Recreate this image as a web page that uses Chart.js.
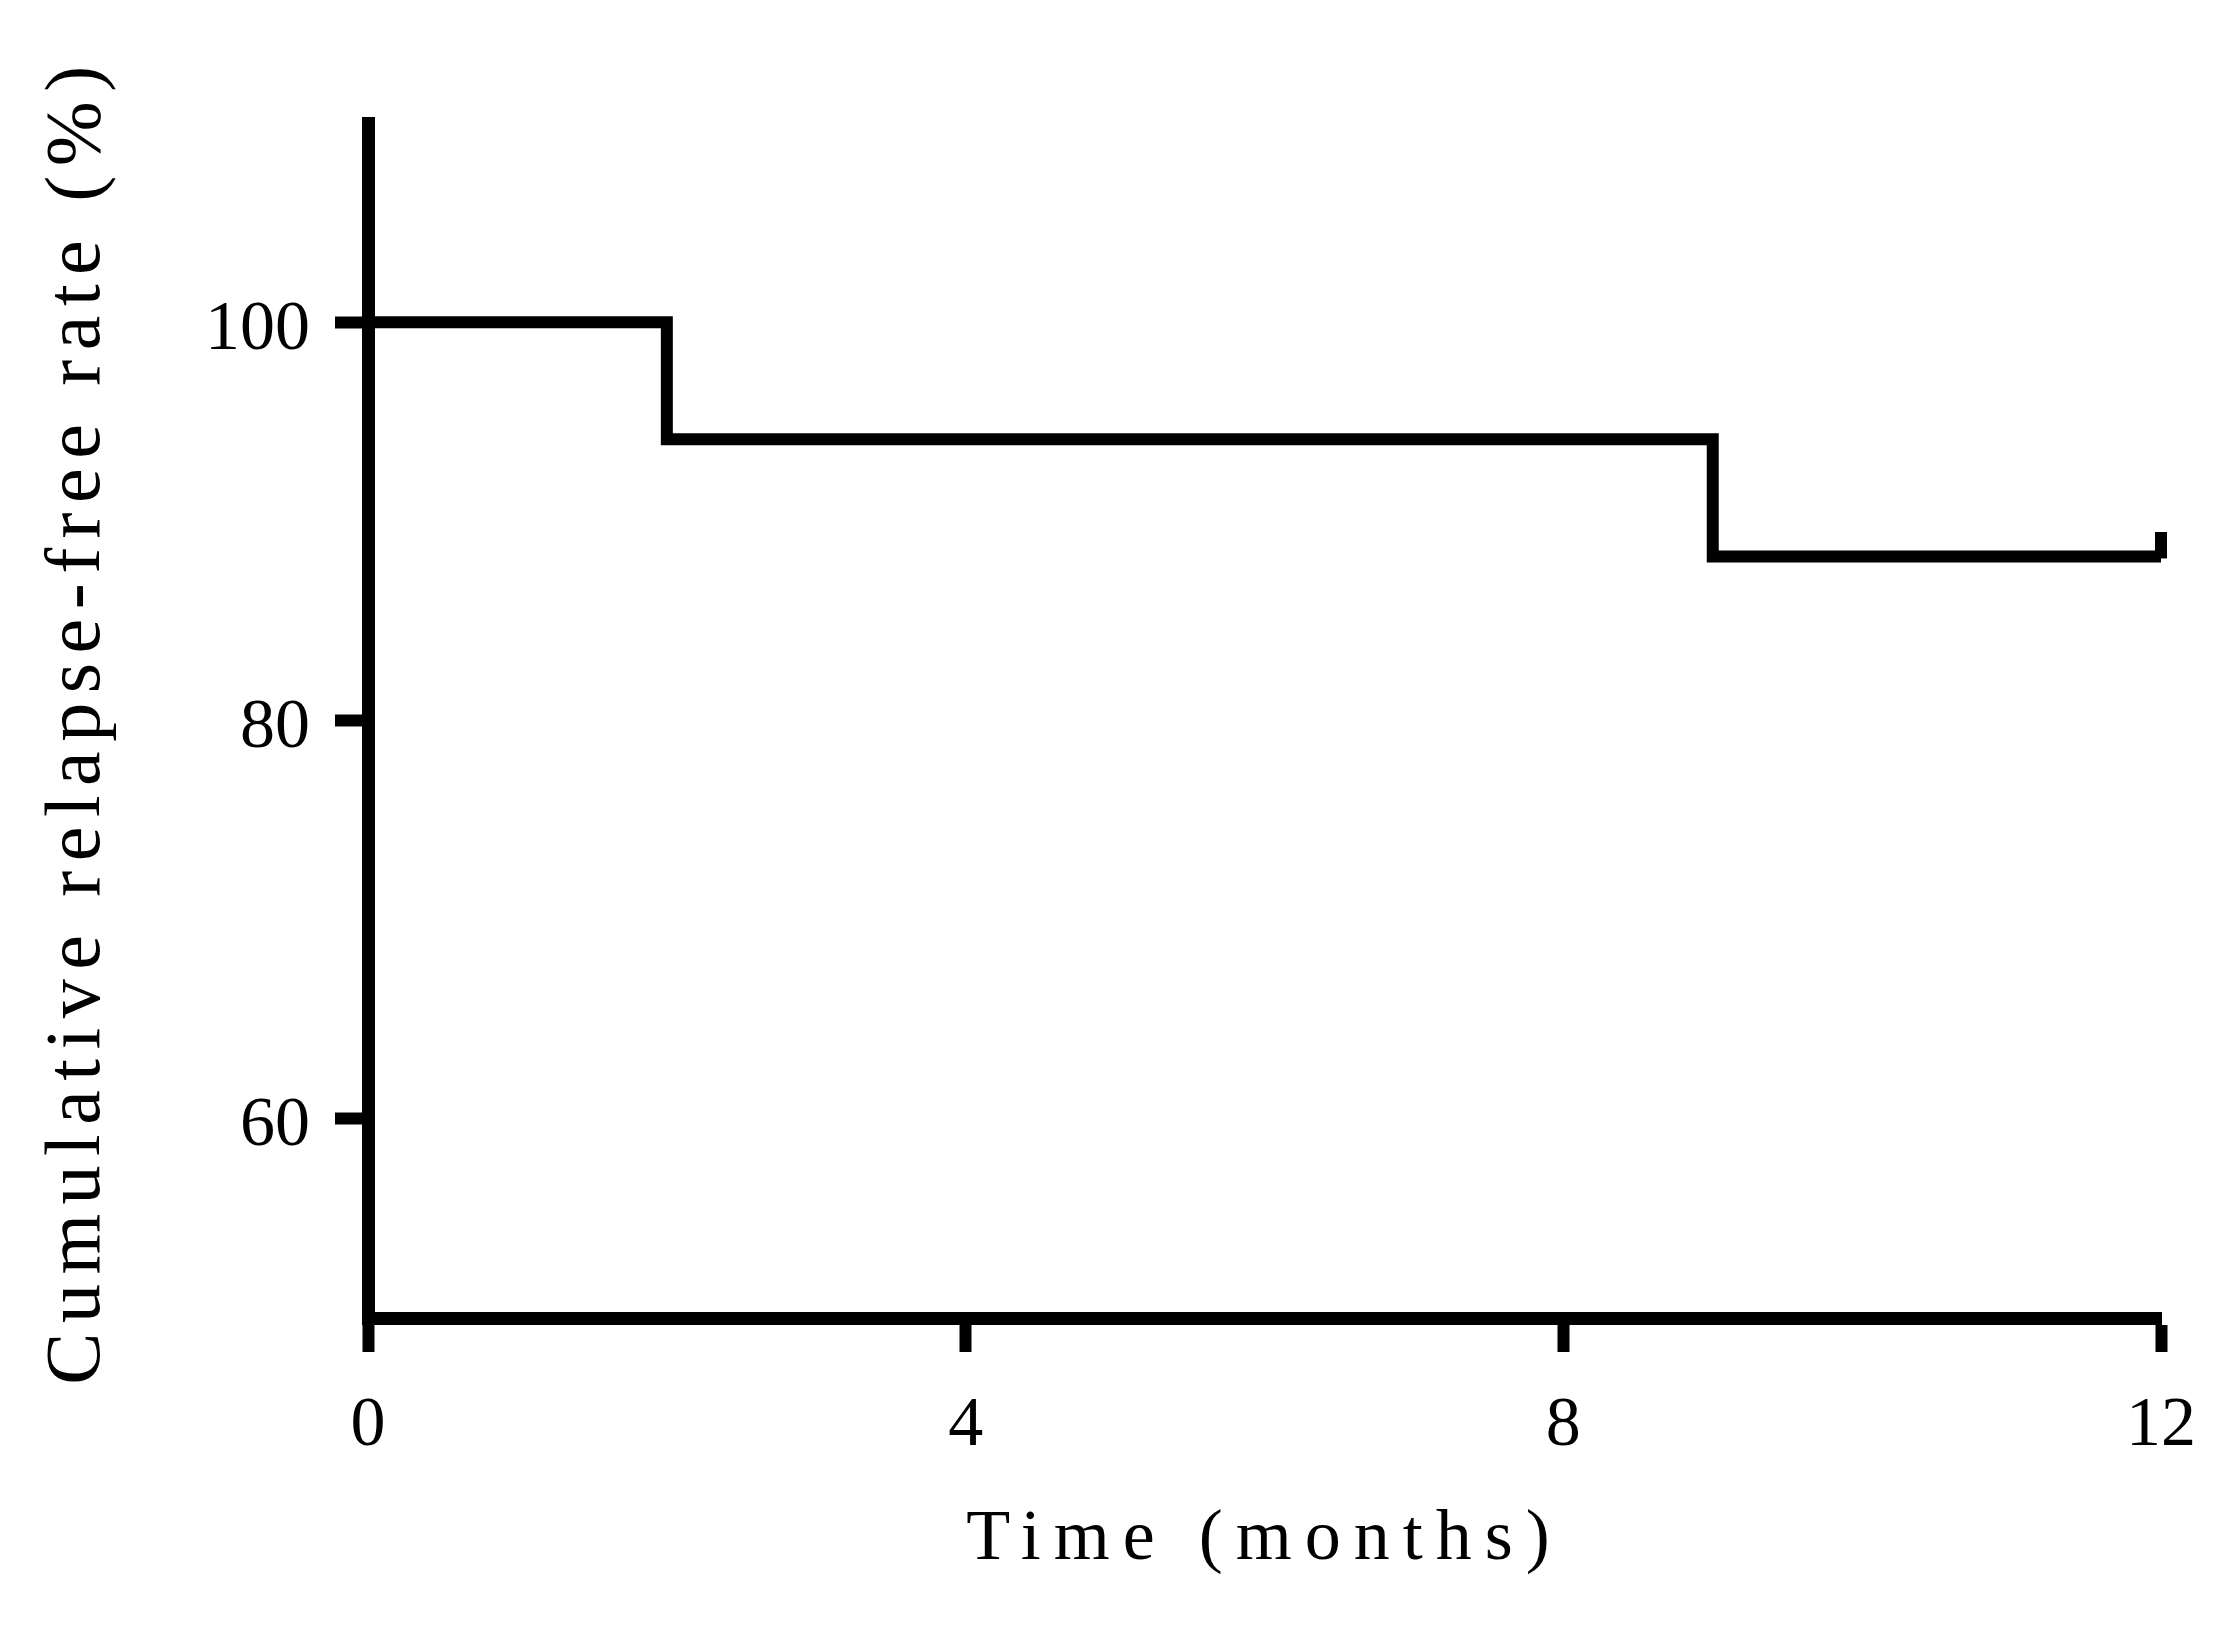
<!DOCTYPE html>
<html>
<head>
<meta charset="utf-8">
<script src="https://cdn.jsdelivr.net/npm/chart.js@4.4.1/dist/chart.umd.min.js"></script>
<style>
  html, body { margin: 0; padding: 0; background: #fff; }
  canvas { display: block; }
</style>
</head>
<body>
<canvas id="km" width="2237" height="1636"></canvas>
<script>
// Kaplan-Meier style curve
const months = [0, 2, 9, 12];
const relapseFree = [100, 94.12, 88.24, 88.24];
const censorMonths = [12];
const censorRates = [88.24];
const xTicks = [0, 4, 8, 12];
const yTicks = [60, 80, 100];

const serif = 'Liberation Serif';
const titleSpacing = { x: 13, y: 9.5 };

// little upward tick for the censored case
const censorMark = document.createElement('canvas');
censorMark.width = 12;
censorMark.height = 48;
const cm = censorMark.getContext('2d');
cm.fillStyle = '#000';
cm.fillRect(0, 0, 12, 26);

const spacedTitles = {
  id: 'spacedTitles',
  afterLayout(chart) {
    for (const id of ['x', 'y']) {
      const scale = chart.scales[id];
      if (!scale || scale._spaced) continue;
      const orig = scale.drawTitle.bind(scale);
      scale.drawTitle = function () {
        const ctx = this.ctx;
        const prev = ctx.letterSpacing;
        ctx.letterSpacing = titleSpacing[id] + 'px';
        orig();
        ctx.letterSpacing = prev;
      };
      scale._spaced = true;
    }
  }
};

const ctx = document.getElementById('km');

const chart = new Chart(ctx, {
  type: 'line',
  data: {
    datasets: [
      {
        data: months.map((m, i) => ({ x: m, y: relapseFree[i] })),
        borderColor: '#000',
        borderWidth: 12,
        stepped: true,
        pointRadius: 0,
        fill: false,
        clip: 20
      },
      {
        data: censorMonths.map((m, i) => ({ x: m, y: censorRates[i] })),
        showLine: false,
        pointStyle: censorMark,
        pointRadius: 24,
        clip: 30
      }
    ]
  },
  options: {
    responsive: false,
    devicePixelRatio: 1,
    animation: false,
    layout: { padding: { top: 123, right: 76, left: 0, bottom: 0 } },
    plugins: { legend: { display: false }, tooltip: { enabled: false } },
    scales: {
      x: {
        type: 'linear',
        min: 0,
        max: 12,
        afterFit(scale) { scale.height = 318; },
        afterBuildTicks(scale) { scale.ticks = xTicks.map(v => ({ value: v })); },
        border: { display: true, color: '#000', width: 13 },
        grid: {
          drawOnChartArea: false,
          drawTicks: true,
          tickLength: 34,
          tickWidth: 12,
          tickColor: '#000'
        },
        ticks: {
          color: '#000',
          padding: 33,
          maxRotation: 0,
          autoSkip: false,
          font: { family: serif, size: 70 }
        },
        title: {
          display: true,
          text: 'Time (months)',
          color: '#000',
          padding: { top: 0, bottom: 53 },
          font: { family: serif, size: 72 }
        }
      },
      y: {
        type: 'linear',
        min: 50,
        max: 110,
        afterFit(scale) { scale.width = 368; },
        afterBuildTicks(scale) { scale.ticks = yTicks.map(v => ({ value: v })); },
        border: { display: true, color: '#000', width: 13 },
        grid: {
          drawOnChartArea: false,
          drawTicks: true,
          tickLength: 33,
          tickWidth: 12,
          tickColor: '#000'
        },
        ticks: {
          color: '#000',
          padding: 25,
          labelOffset: 8,
          font: { family: serif, size: 70 }
        },
        title: {
          display: true,
          text: 'Cumulative relapse-free rate (%)',
          color: '#000',
          padding: { top: 32, bottom: 0 },
          font: { family: serif, size: 78 }
        }
      }
    }
  },
  plugins: [spacedTitles]
});
</script>
</body>
</html>
